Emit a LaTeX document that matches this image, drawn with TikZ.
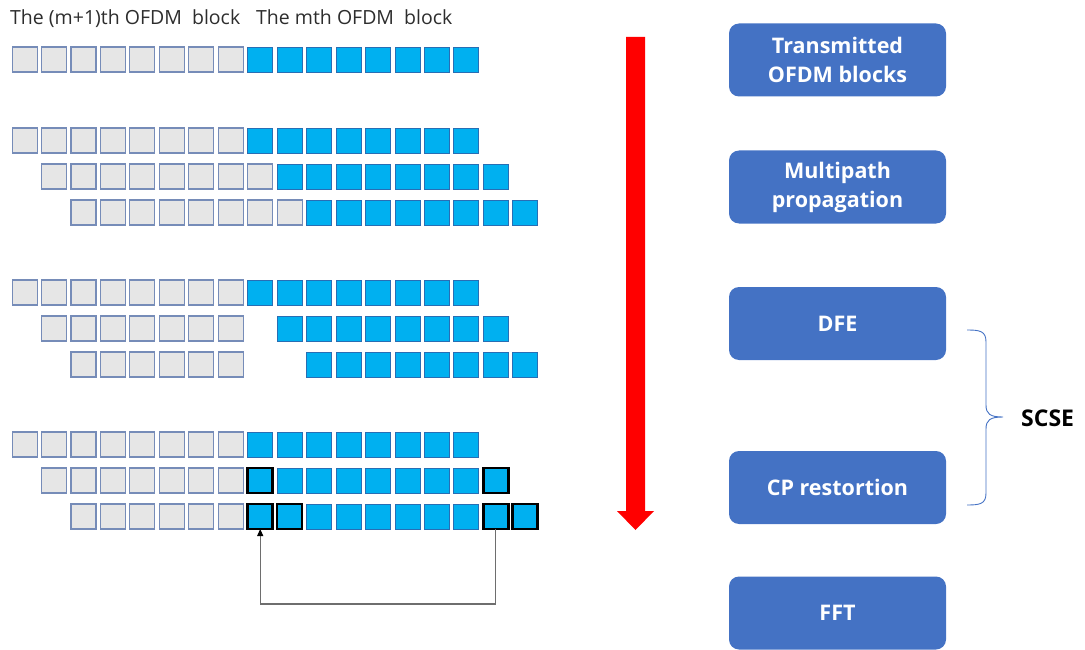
\documentclass[tikz,border=0pt]{standalone}
\usepackage{fontspec}
\setmainfont{Open Sans}
\usetikzlibrary{arrows.meta}
\definecolor{cellgrey}{RGB}{230,230,230}
\definecolor{cellgreyedge}{RGB}{118,140,184}
\definecolor{cellblue}{RGB}{0,176,240}
\definecolor{cellblueedge}{RGB}{40,110,180}
\definecolor{stagebox}{RGB}{68,114,196}
\definecolor{flowred}{RGB}{255,0,0}
\definecolor{loopgrey}{RGB}{110,110,110}
\definecolor{caption}{RGB}{45,45,45}
\tikzset{
  cell/.style={minimum size=25pt, inner sep=0pt, outer sep=0pt},
  greycell/.style={cell, fill=cellgrey, draw=cellgreyedge, line width=1.1pt},
  bluecell/.style={cell, fill=cellblue, draw=cellblueedge, line width=0.8pt},
  boldcell/.style={cell, fill=cellblue, draw=black, line width=2.6pt},
  stage/.style={rounded corners=10pt, fill=stagebox, text=white, minimum width=217pt,
    minimum height=73pt, align=center, inner sep=0pt, font=\fontsize{21.5}{29}\selectfont\bfseries},
  label/.style={anchor=base west, inner sep=0pt, text=caption, font=\fontsize{19.5}{22}\selectfont}
}
% one square of a row: block b, row r, column c, top edge y, style s
\newcommand{\cellat}[5]{\node[#5] (b#1r#2c#3) at (24.6+29.45*#3, #4+12.5) {};}
\begin{document}
\begin{tikzpicture}[x=1pt, y=-1pt]
\useasboundingbox (0,0) rectangle (1085,650);

% captions above the first row
\node[label] (capA) at (10,25) {The (m+1)th OFDM\ \ block};
\node[label] (capB) at (256,25) {The mth OFDM\ \ block};

% first row of every block: the same transmitted sequence
\foreach \b/\y in {1/47, 2/128, 3/280, 4/432}{
  \foreach \c in {0,...,7}{\cellat{\b}{1}{\c}{\y}{greycell}}
  \foreach \c in {8,...,15}{\cellat{\b}{1}{\c}{\y}{bluecell}}
}

% multipath: delayed copies
\foreach \c in {1,...,8}{\cellat{2}{2}{\c}{164}{greycell}}
\foreach \c in {9,...,16}{\cellat{2}{2}{\c}{164}{bluecell}}
\foreach \c in {2,...,9}{\cellat{2}{3}{\c}{200}{greycell}}
\foreach \c in {10,...,17}{\cellat{2}{3}{\c}{200}{bluecell}}

% DFE: interference removed
\foreach \c in {1,...,7}{\cellat{3}{2}{\c}{316}{greycell}}
\foreach \c in {9,...,16}{\cellat{3}{2}{\c}{316}{bluecell}}
\foreach \c in {2,...,7}{\cellat{3}{3}{\c}{352}{greycell}}
\foreach \c in {10,...,17}{\cellat{3}{3}{\c}{352}{bluecell}}

% CP restoration
\foreach \c in {1,...,7}{\cellat{4}{2}{\c}{468}{greycell}}
\foreach \c in {9,...,15}{\cellat{4}{2}{\c}{468}{bluecell}}
\foreach \c in {8,16}{\cellat{4}{2}{\c}{468}{boldcell}}
\foreach \c in {2,...,7}{\cellat{4}{3}{\c}{504}{greycell}}
\foreach \c in {10,...,15}{\cellat{4}{3}{\c}{504}{bluecell}}
\foreach \c in {8,9,16,17}{\cellat{4}{3}{\c}{504}{boldcell}}

% copy-back loop
\coordinate (loopbottom) at (0,604);
\draw[loopgrey, line width=1.1pt, -{Triangle[length=7pt,width=6pt,color=black]}]
  (b4r3c16.south) -- (b4r3c16.south |- loopbottom) -| (b4r3c8.south);

% processing direction
\fill[flowred] (626,37) -- (645,37) -- (645,511) -- (654,511) -- (635.5,530)
  -- (617,511) -- (626,511) -- cycle;

% processing stages
\node[stage] (tx)  at (837.5,60)  {Transmitted\\OFDM blocks};
\node[stage] (mp)  at (837.5,187) {Multipath\\propagation};
\node[stage] (dfe) at (837.5,323.5) {DFE};
\node[stage] (cpr) at (837.5,487.5) {CP restortion};
\node[stage] (fft) at (837.5,613) {FFT};

% SCSE grouping brace
\draw[stagebox, line width=0.9pt]
  (967,330) .. controls (980,330) and (986,331) .. (986,342)
  -- (986,405) .. controls (986,414) and (990,417) .. (1003,417)
  (986,429) .. controls (986,420) and (990,417) .. (1003,417)
  (986,429) -- (986,493) .. controls (986,504) and (980,505) .. (967,505);
\node[anchor=west, inner sep=0pt, font=\fontsize{23}{26}\selectfont\bfseries] (scse) at (1021,418) {SCSE};
\end{tikzpicture}
\end{document}
